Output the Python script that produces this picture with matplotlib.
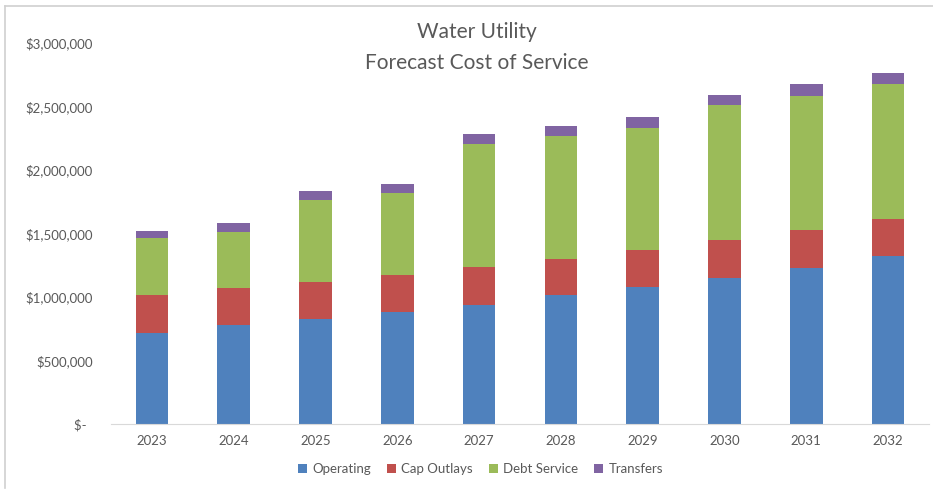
import matplotlib.pyplot as plt
import matplotlib.ticker as mticker
import numpy as np

plt.rcParams['font.family'] = ['Lato', 'DejaVu Sans']

years = ['2023', '2024', '2025', '2026', '2027', '2028', '2029', '2030', '2031', '2032']
operating = [716000, 777000, 830000, 882000, 937000, 1013000, 1078000, 1151000, 1230000, 1319000]
cap_outlays = [299000, 290000, 287000, 295000, 301000, 287000, 296000, 299000, 301000, 296000]
debt_service = [447000, 442000, 647000, 642000, 965000, 971000, 960000, 1062000, 1054000, 1064000]
transfers = [61000, 74000, 67000, 70000, 79000, 74000, 83000, 81000, 89000, 86000]

series = [
    ('Operating', operating, '#4F81BD'),
    ('Cap Outlays', cap_outlays, '#C0504D'),
    ('Debt Service', debt_service, '#9BBB59'),
    ('Transfers', transfers, '#8064A2'),
]

fig = plt.figure(figsize=(9.33, 4.9), dpi=100)
ax = fig.add_axes([111 / 933, 1 - 424 / 490, (929 - 111) / 933, (424 - 43) / 490])

x = np.arange(len(years))
bottom = np.zeros(len(years))
for name, vals, color in series:
    ax.bar(x, vals, width=0.4, bottom=bottom, color=color, label=name)
    bottom += np.array(vals)

ax.set_xlim(-0.5, len(years) - 0.5)
ax.set_ylim(0, 3000000)
ax.set_xticks(x)
ax.set_xticklabels(years)
ax.yaxis.set_major_locator(mticker.MultipleLocator(500000))
ax.yaxis.set_major_formatter(mticker.FuncFormatter(
    lambda v, p: '$-  ' if v == 0 else '${:,.0f}'.format(v)))

for side in ['top', 'right', 'left']:
    ax.spines[side].set_visible(False)
ax.spines['bottom'].set_color('#D9D9D9')
ax.tick_params(axis='both', length=0, colors='#595959', labelsize=9.5)
ax.tick_params(axis='y', pad=13)
ax.tick_params(axis='x', pad=8)

fig.text(0.511, 1 - 47.5 / 490, 'Water Utility\nForecast Cost of Service', ha='center', va='center',
         fontsize=15, color='#595959', linespacing=1.65)

fig.legend(loc='center', bbox_to_anchor=(0.515, 1 - 469 / 490), ncol=4, frameon=False,
           fontsize=9.5, handlelength=0.7, handleheight=0.7, handletextpad=0.4,
           columnspacing=1.2, labelcolor='#595959')

# light frame around the chart area
fig.add_artist(plt.Line2D([5 / 933, 5 / 933], [2 / 490, 1 - 6 / 490], color='#D0D0D0', lw=1.2))
fig.add_artist(plt.Line2D([5 / 933, 1.0], [1 - 6 / 490, 1 - 6 / 490], color='#D0D0D0', lw=1.2))

fig.savefig('out.png', dpi=100)
